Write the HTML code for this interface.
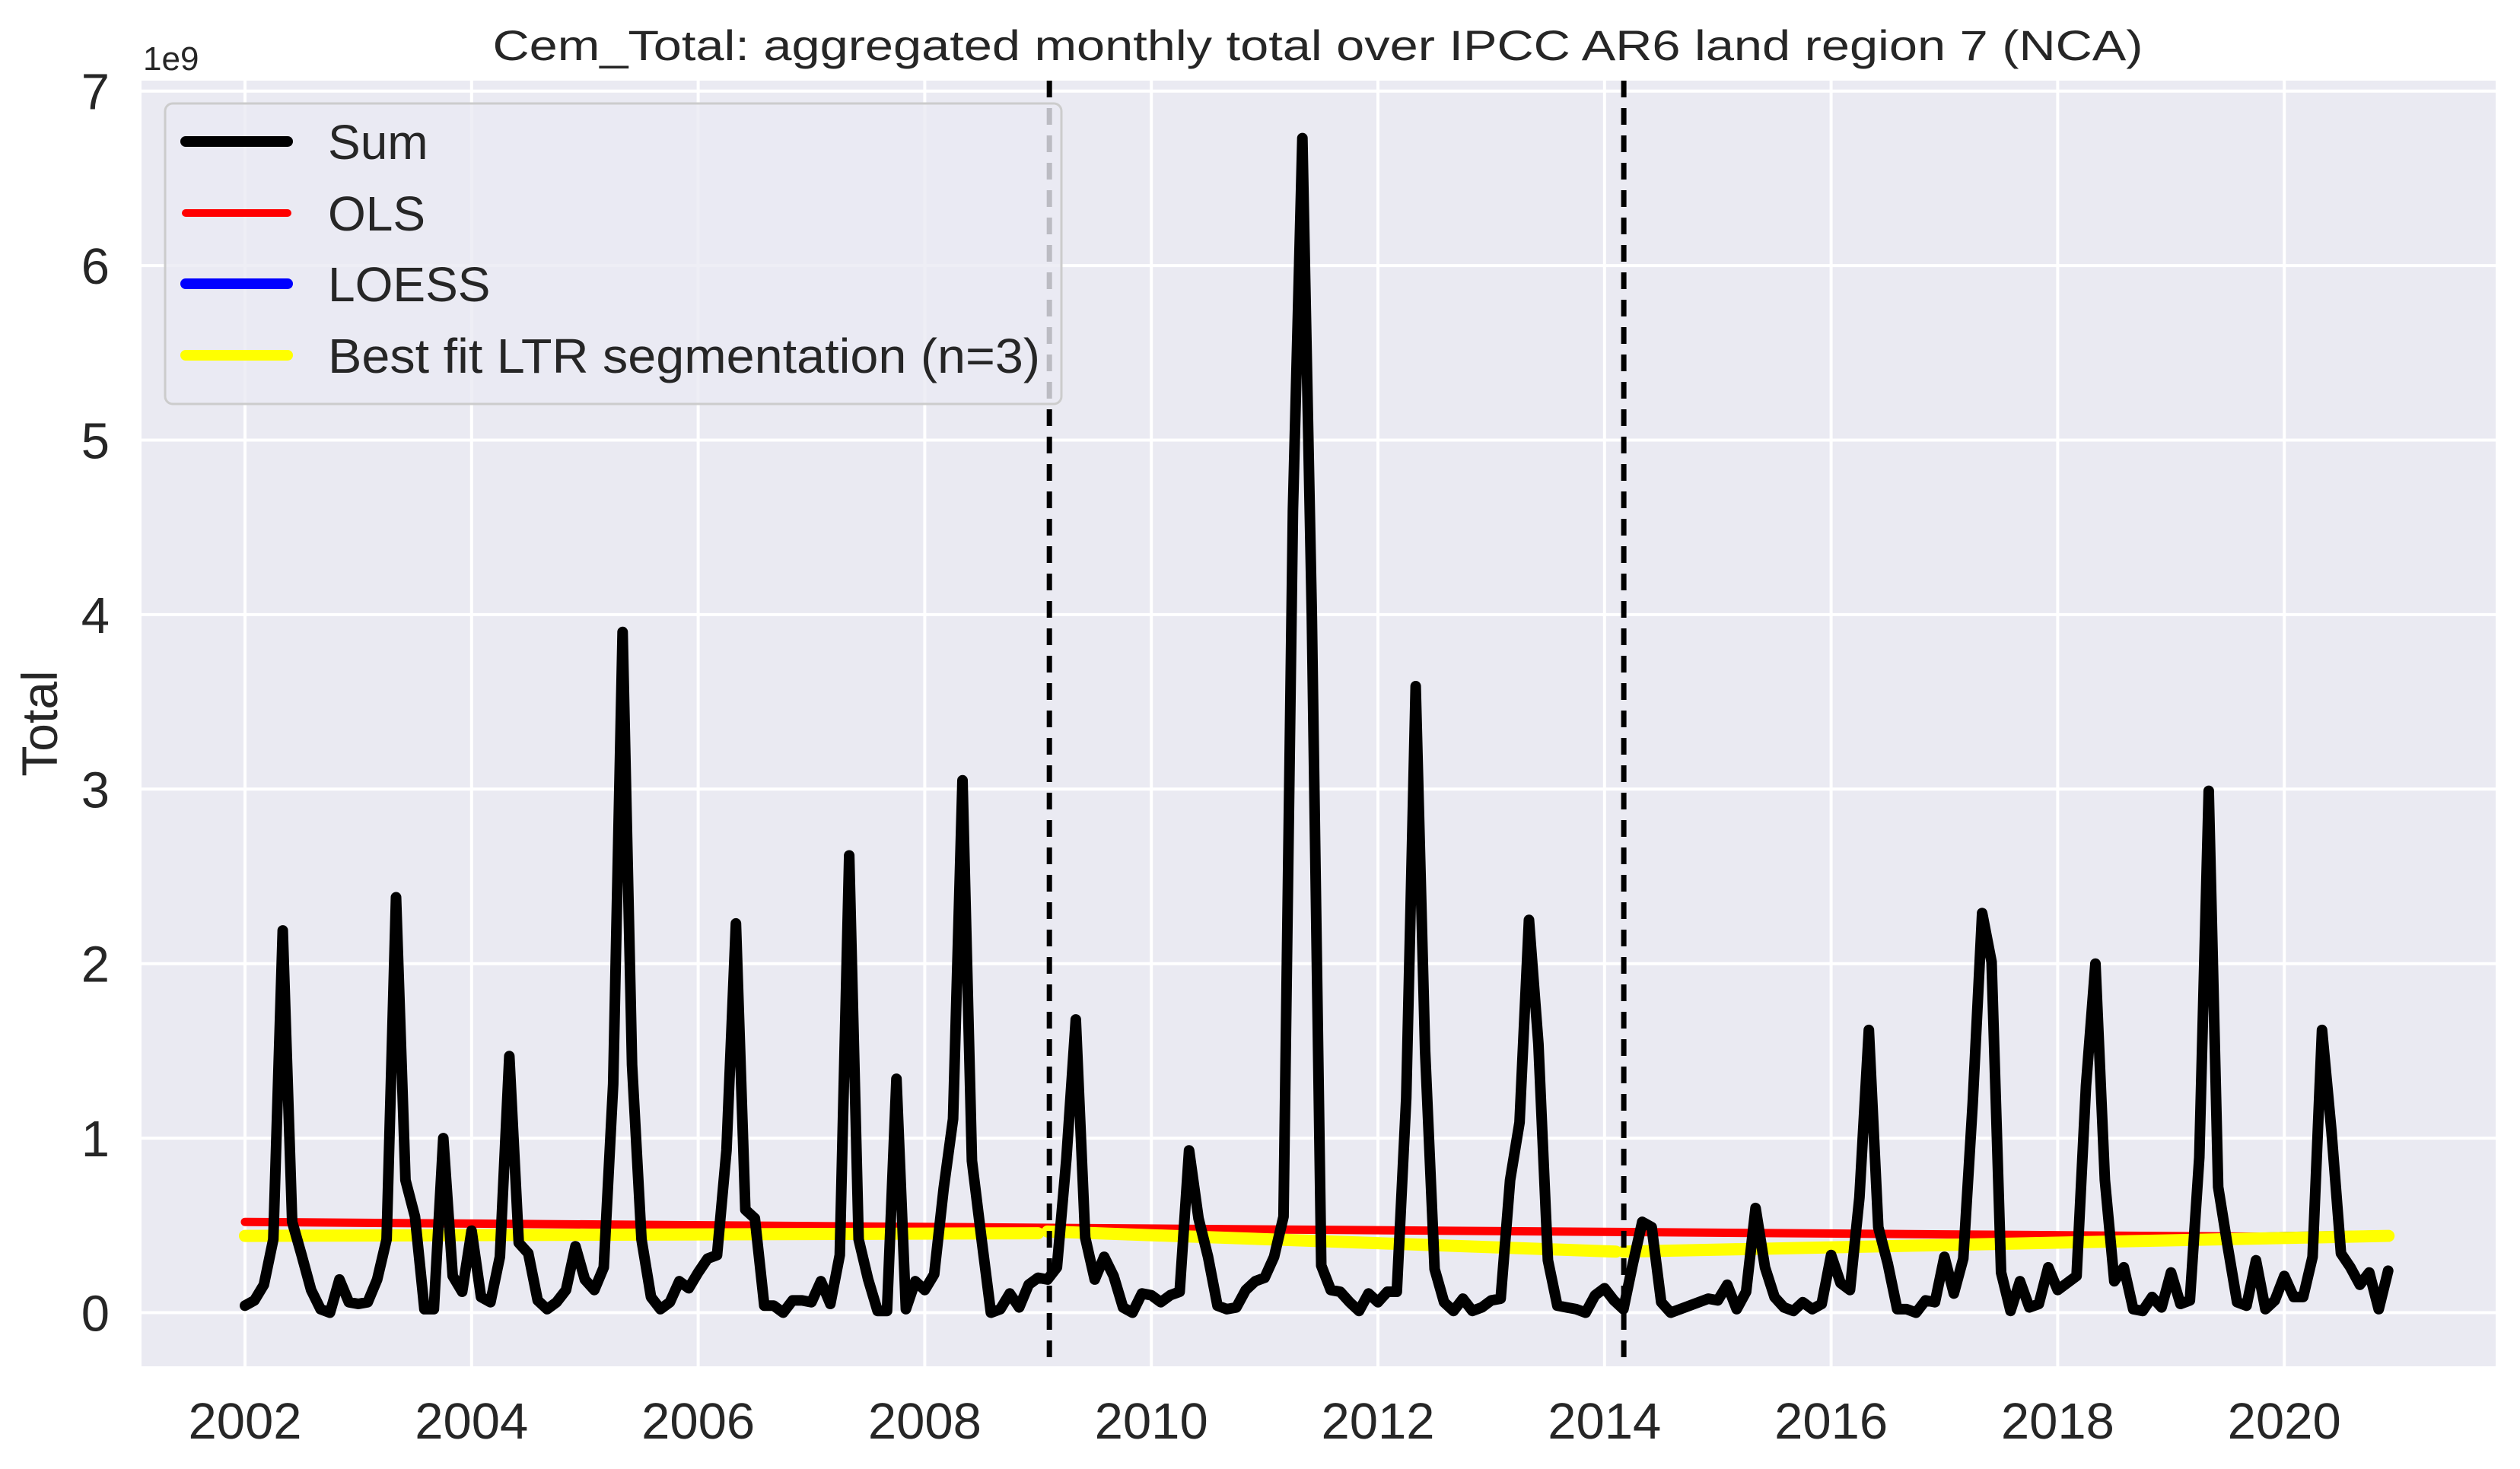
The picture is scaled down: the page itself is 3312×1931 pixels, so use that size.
<!DOCTYPE html>
<html><head><meta charset="utf-8">
<style>
html,body{margin:0;padding:0;background:#fff;}
svg{display:block;font-family:"Liberation Sans",Arial,sans-serif;}
</style></head>
<body>
<svg id="chart" width="3312" height="1931" viewBox="0 0 3312 1931">
<rect x="0" y="0" width="3312" height="1931" fill="#ffffff"/>
<rect x="186" y="106" width="3094" height="1690" fill="#EAEAF2"/>
<g id="grid"></g>
<g id="series"></g>
<g id="axes"></g>
<text x="1732" y="79" font-size="56" fill="#262626" text-anchor="middle" textLength="2169" lengthAdjust="spacingAndGlyphs">Cem_Total: aggregated monthly total over IPCC AR6 land region 7 (NCA)</text>
<text x="188" y="92" font-size="44" fill="#262626">1e9</text>
<text transform="translate(75,951) rotate(-90)" font-size="66" fill="#262626" text-anchor="middle">Total</text>
<g id="legend">
<rect x="217" y="136" width="1178" height="395" rx="10" fill="#EAEAF2" fill-opacity="0.8" stroke="#cccccc" stroke-width="3"/>
<line x1="244" y1="186" x2="378" y2="186" stroke="#000" stroke-width="14" stroke-linecap="round"/>
<text x="431" y="209" font-size="64" fill="#262626">Sum</text>
<line x1="244" y1="280" x2="378" y2="280" stroke="#ff0000" stroke-width="10" stroke-linecap="round"/>
<text x="431" y="303" font-size="64" fill="#262626">OLS</text>
<line x1="244" y1="373" x2="378" y2="373" stroke="#0000ff" stroke-width="14" stroke-linecap="round"/>
<text x="431" y="396" font-size="64" fill="#262626">LOESS</text>
<line x1="244" y1="467" x2="378" y2="467" stroke="#ffff00" stroke-width="14" stroke-linecap="round"/>
<text x="431" y="490" font-size="64" fill="#262626" textLength="936" lengthAdjust="spacingAndGlyphs">Best fit LTR segmentation (n=3)</text>
</g>
</svg>
<script>
// ---- data ----
var startYear = 2002;
var sumValues = [
0.04,0.07,0.16,0.42,2.19,0.52,0.33,0.13,0.02,0.00,0.19,0.06,
0.05,0.06,0.19,0.42,2.38,0.76,0.55,0.02,0.02,1.00,0.21,0.12,
0.47,0.09,0.06,0.32,1.47,0.40,0.34,0.07,0.02,0.06,0.13,0.38,
0.19,0.13,0.26,1.31,3.90,1.42,0.42,0.09,0.02,0.06,0.18,0.14,
0.23,0.31,0.33,0.93,2.23,0.59,0.54,0.04,0.04,0.00,0.07,0.07,
0.06,0.18,0.05,0.33,2.62,0.42,0.19,0.01,0.01,1.34,0.02,0.18,
0.13,0.22,0.71,1.11,3.05,0.87,0.43,0.00,0.02,0.11,0.03,0.16,
0.20,0.19,0.26,0.88,1.68,0.43,0.19,0.32,0.21,0.03,0.00,0.11,
0.10,0.06,0.10,0.12,0.93,0.54,0.32,0.04,0.02,0.03,0.13,0.18,
0.20,0.32,0.55,4.60,6.73,4.00,0.27,0.13,0.12,0.06,0.01,0.11,
0.06,0.12,0.12,1.23,3.59,1.50,0.25,0.06,0.01,0.08,0.01,0.03,
0.07,0.08,0.76,1.09,2.25,1.54,0.30,0.04,0.03,0.02,0.00,0.10,
0.14,0.07,0.02,0.28,0.52,0.49,0.06,0.00,0.02,0.04,0.06,0.08,
0.07,0.16,0.02,0.12,0.60,0.26,0.09,0.03,0.01,0.06,0.02,0.05,
0.33,0.17,0.13,0.66,1.62,0.49,0.28,0.02,0.02,0.00,0.07,0.06,
0.32,0.11,0.31,1.20,2.29,2.01,0.23,0.01,0.18,0.03,0.05,0.26,
0.13,0.17,0.21,1.30,2.00,0.76,0.18,0.26,0.02,0.01,0.09,0.03,
0.23,0.05,0.07,0.89,2.99,0.72,0.38,0.06,0.04,0.30,0.02,0.07,
0.21,0.09,0.09,0.32,1.62,1.04,0.34,0.26,0.16,0.23,0.02,0.24];
var olsYears = [2002, 2020.92];
var olsValues = [0.52, 0.43];
var loessYears = [2002,2003,2004,2005,2006,2007,2008,2009,2010,2011,2012,2013,2014,2015,2016,2017,2018,2019,2020,2020.92];
var loessValues = [0.43,0.435,0.44,0.445,0.45,0.455,0.46,0.46,0.44,0.41,0.39,0.37,0.36,0.37,0.39,0.40,0.42,0.43,0.45,0.46];
var ltrStartYears = [2002, 2009.083, 2014.167];
var ltrEndYears = [2009.0, 2014.10, 2020.92];
var ltrStartValues = [0.44, 0.465, 0.35];
var ltrEndValues = [0.455, 0.35, 0.44];
var breakYears = [2009.1, 2014.17];
var xTickLabels = ["2002","2004","2006","2008","2010","2012","2014","2016","2018","2020"];
var yTickLabels = ["0","1","2","3","4","5","6","7"];

// ---- scales ----
var X0 = 322, XPY = 148.9, Y0 = 1725.5, YPU = 229.4;
var PL = 186, PR = 3280, PT = 106, PB = 1796;
function xs(yr){ return X0 + (yr - 2002) * XPY; }
function ys(v){ return Y0 - v * YPU; }
var NS = "http://www.w3.org/2000/svg";
function mk(tag, attrs, parent){ var e = document.createElementNS(NS, tag); for (var k in attrs) e.setAttribute(k, attrs[k]); parent.appendChild(e); return e; }

var grid = document.getElementById('grid');
var axes = document.getElementById('axes');
var series = document.getElementById('series');

xTickLabels.forEach(function(lab){
  var x = xs(parseFloat(lab));
  var gl = mk('line', {x1:x, x2:x, y1:PT, y2:PB, stroke:'#fff', 'stroke-width':4}, grid);
  
  
  var t = mk('text', {x:x, y:1891, 'font-size':67, fill:'#262626', 'text-anchor':'middle'}, axes);
  t.textContent = lab;
  
  
});
yTickLabels.forEach(function(lab){
  var y = ys(parseFloat(lab));
  var gl = mk('line', {x1:PL, x2:PR, y1:y, y2:y, stroke:'#fff', 'stroke-width':4}, grid);
  
  
  var t = mk('text', {x:144, y:y + 24, 'font-size':67, fill:'#262626', 'text-anchor':'end'}, axes);
  t.textContent = lab;
  
  
});

// OLS
var ols = mk('polyline', {points: olsYears.map(function(y,i){return xs(y)+','+ys(olsValues[i]);}).join(' '), fill:'none', stroke:'#ff0000', 'stroke-width':11, 'stroke-linecap':'round'}, series);


// LOESS
var lo = mk('polyline', {points: loessYears.map(function(y,i){return xs(y)+','+ys(loessValues[i]);}).join(' '), fill:'none', stroke:'#0000ff', 'stroke-width':6, 'stroke-linejoin':'round'}, series);


// LTR segments
ltrStartYears.forEach(function(sy, i){
  var s = mk('line', {x1:xs(sy), y1:ys(ltrStartValues[i]), x2:xs(ltrEndYears[i]), y2:ys(ltrEndValues[i]), stroke:'#ffff00', 'stroke-width':16, 'stroke-linecap':'round'}, series);
  
  
});
// Sum
var pts = sumValues.map(function(v,i){ return xs(startYear + i/12).toFixed(1) + ',' + ys(v).toFixed(1); }).join(' ');
var sl = mk('polyline', {points: pts, fill:'none', stroke:'#000', 'stroke-width':14, 'stroke-linejoin':'round', 'stroke-linecap':'round'}, series);


// breakpoints
breakYears.forEach(function(b){
  var d = mk('line', {x1:xs(b), x2:xs(b), y1:PT, y2:PB, stroke:'#000', 'stroke-width':7, 'stroke-dasharray':'22,14'}, series);
  
  
});
</script>
</body></html>
